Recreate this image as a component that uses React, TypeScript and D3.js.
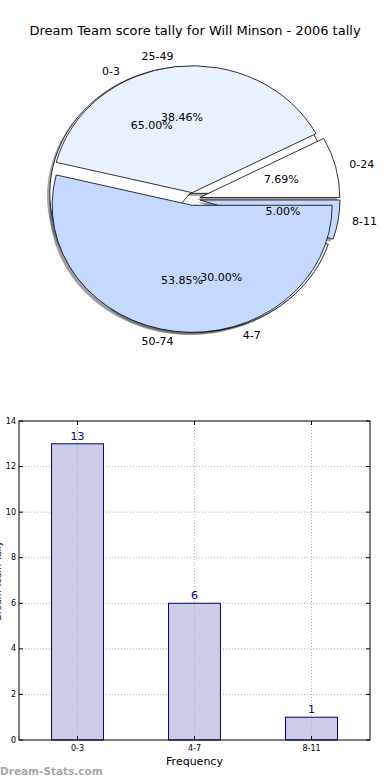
import React from 'react';
import * as d3 from 'd3';

// pie 1: score tally ranges
const tallyRanges = ['0-24', '25-49', '50-74'];
const tallyCounts = [1, 5, 7];
// pie 2 + bars: frequency ranges
const freqRanges = ['0-3', '4-7', '8-11'];
const freqCounts = [13, 6, 1];
const yTicks = [0, 2, 4, 6, 8, 10, 12, 14];

const wedgeColors = ['#ffffff', '#e9f0fe', '#c5d9fe'];
const title = 'Dream Team score tally for Will Minson - 2006 tally';

const W = 390, H = 780;
const cx = 193, cy = 199, rx = 140, ry = 127;
const explode = 0.05;
const font = '"DejaVu Sans", sans-serif';

const pieGen = d3.pie<number>().sort(null).startAngle(Math.PI / 2).endAngle(Math.PI / 2 - 2 * Math.PI);
const arcGen = d3.arc<d3.PieArcDatum<number>>().innerRadius(0).outerRadius(1);

function shade(c: string) {
  const k = d3.rgb(c);
  return d3.rgb(k.r * 0.3, k.g * 0.3, k.b * 0.3).toString();
}

function layout(counts: number[], labels: string[]) {
  const total = d3.sum(counts);
  return pieGen(counts).map((d, i) => {
    const mid = (d.startAngle + d.endAngle) / 2;
    const ox = Math.sin(mid) * explode;
    const oy = -Math.cos(mid) * explode;
    return {
      d, i, ox, oy,
      label: labels[i],
      pct: (d.value / total * 100).toFixed(2) + '%',
      lx: cx + rx * (ox + 1.1 * Math.sin(mid)),
      ly: cy + ry * (oy - 1.08 * Math.cos(mid)),
      anchor: Math.sin(mid) > 0 ? 'start' : 'end',
      px: cx + rx * (ox + 0.6 * Math.sin(mid)),
      py: cy + ry * (oy - 0.6 * Math.cos(mid)),
    };
  });
}

function PieChart() {
  const pieA = layout(tallyCounts, tallyRanges);
  const pieB = layout(freqCounts, freqRanges);
  const wedge = (w: any, key: string, shadow: boolean) => {
    const c = wedgeColors[w.i];
    const tx = w.ox + (shadow ? -0.02 : 0);
    const ty = w.oy + (shadow ? 0.02 : 0);
    return (
      <path key={key} d={arcGen(w.d) || ''} transform={`translate(${tx},${ty})`}
        fill={shadow ? shade(c) : c} fillOpacity={shadow ? 0.5 : 1}
        stroke={shadow ? 'none' : '#000'} strokeWidth={0.8}
        vectorEffect="non-scaling-stroke" />
    );
  };
  return (
    <g>
      <g transform={`translate(${cx},${cy}) scale(${rx},${ry})`}>
        {pieB.map(w => wedge(w, 'sb' + w.i, true))}
        {pieA.map(w => wedge(w, 'sa' + w.i, true))}
        {pieB.map(w => wedge(w, 'wb' + w.i, false))}
        {pieA.map(w => wedge(w, 'wa' + w.i, false))}
      </g>
      {[...pieA, ...pieB].map((w, k) => (
        <g key={'t' + k} fontFamily={font} fontSize={11} fill="#000">
          <text x={w.lx} y={w.ly} textAnchor={w.anchor} dominantBaseline="central">{w.label}</text>
          <text x={w.px} y={w.py} textAnchor="middle" dominantBaseline="central">{w.pct}</text>
        </g>
      ))}
    </g>
  );
}

function BarChart() {
  const left = 19, right = 370, top = 421, bottom = 740;
  const x = d3.scaleBand<string>().domain(freqRanges).range([left, right]).paddingInner(0.556).paddingOuter(0.278);
  const y = d3.scaleLinear().domain([0, 14]).range([bottom, top]);
  const grid = '#b4b4b4';
  return (
    <g fontFamily={font}>
      {yTicks.slice(1, -1).map(t => (
        <line key={'gy' + t} x1={left} x2={right} y1={y(t)} y2={y(t)} stroke={grid} strokeWidth={1} strokeDasharray="1 2" />
      ))}
      {freqRanges.map((c, i) => (
        <rect key={'b' + c} x={x(c)} y={y(freqCounts[i])} width={x.bandwidth()} height={bottom - y(freqCounts[i])}
          fill="#cccce6" stroke="#000080" strokeWidth={1} />
      ))}
      {freqRanges.map(c => {
        const xc = (x(c) || 0) + x.bandwidth() / 2;
        return (
          <g key={'gx' + c}>
            <line x1={xc} x2={xc} y1={top} y2={bottom} stroke={grid} strokeWidth={1} strokeDasharray="1 2" />
            <line x1={xc} x2={xc} y1={bottom} y2={bottom - 4} stroke="#000" />
            <line x1={xc} x2={xc} y1={top} y2={top + 4} stroke="#000" />
            <text x={xc} y={bottom + 11} textAnchor="middle" fontSize={8}>{c}</text>
          </g>
        );
      })}
      {freqRanges.map((c, i) => (
        <text key={'v' + c} x={(x(c) || 0) + x.bandwidth() / 2} y={y(freqCounts[i]) - 4}
          textAnchor="middle" fontSize={11} fill="#000080">{freqCounts[i]}</text>
      ))}
      {yTicks.map(t => (
        <g key={'yt' + t}>
          <line x1={left} x2={left + 4} y1={y(t)} y2={y(t)} stroke="#000" />
          <line x1={right} x2={right - 4} y1={y(t)} y2={y(t)} stroke="#000" />
          <text x={left - 3} y={y(t)} textAnchor="end" dominantBaseline="central" fontSize={8}>{t}</text>
        </g>
      ))}
      <rect x={left} y={top} width={right - left} height={bottom - top} fill="none" stroke="#000" strokeWidth={1} />
      <text x={(left + right) / 2} y={765} textAnchor="middle" fontSize={11}>Frequency</text>
      <text transform={`translate(1,${581}) rotate(-90)`} textAnchor="middle" fontSize={9}>Dream Team Tally</text>
    </g>
  );
}

export default function App() {
  return (
    <svg width={W} height={H} style={{ position: 'absolute', left: 0, top: 0, background: '#fff' }}>
      <rect width={W} height={H} fill="#fff" />
      <text x={195} y={35} textAnchor="middle" fontFamily={font} fontSize={13}>{title}</text>
      <PieChart />
      <BarChart />
      <text x={0} y={775} fontFamily={font} fontSize={10.5} fontWeight="bold" fill="#a8a8a8">Dream-Stats.com</text>
    </svg>
  );
}
